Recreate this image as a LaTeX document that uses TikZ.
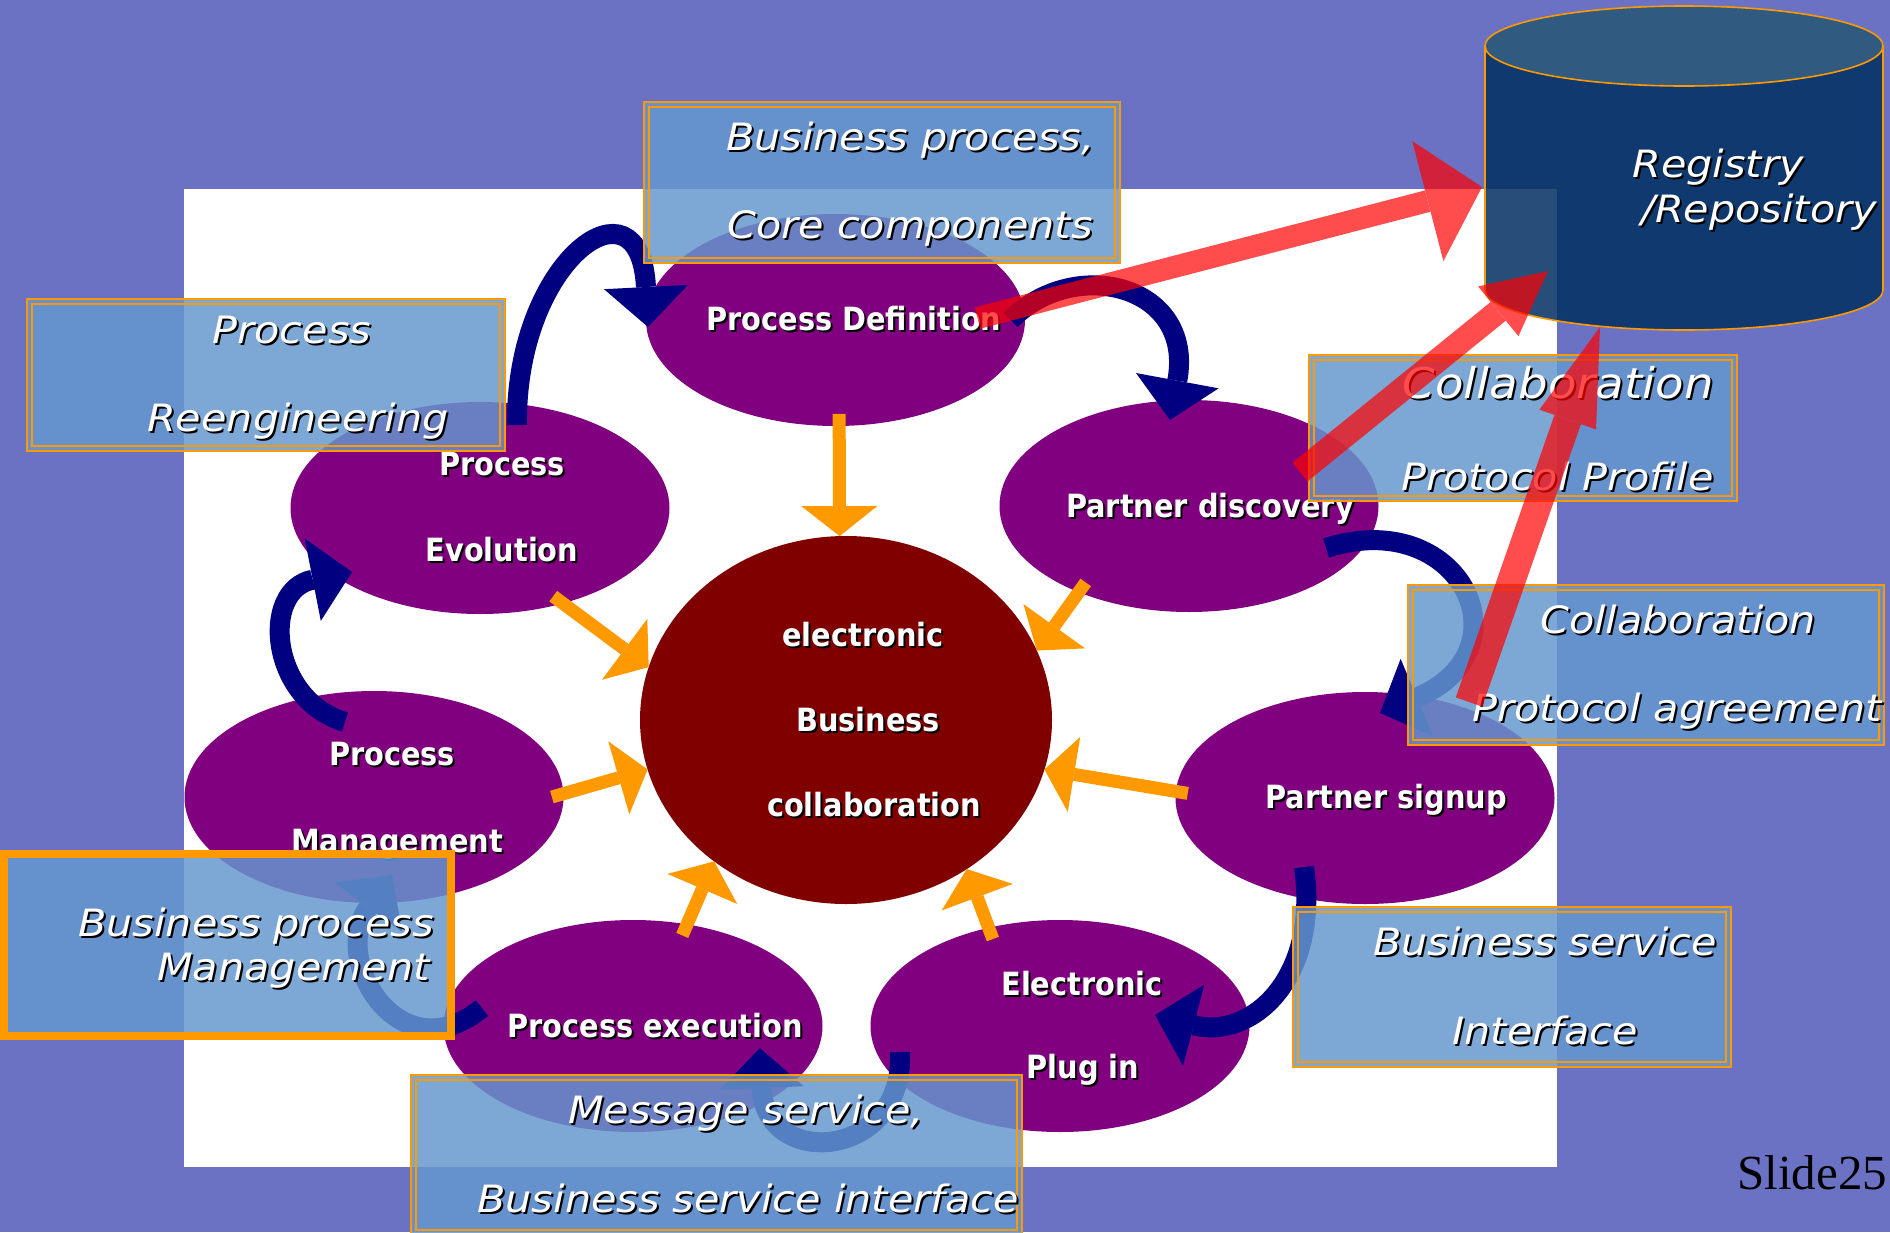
\documentclass[tikz,border=0pt]{standalone}
\usepackage{fontspec}
\usepackage{tikz}
\usetikzlibrary{shapes.geometric}
\usetikzlibrary{arrows.meta}

\newfontfamily\boxfont[FakeStretch=1.1]{DejaVu Sans Oblique}
\newfontfamily\bubblefont[FakeStretch=0.9]{DejaVu Sans Bold}
\newfontfamily\slidefont{Liberation Serif}

\definecolor{slideblue}{RGB}{107,114,196}
\definecolor{bubblepurple}{RGB}{128,0,128}
\definecolor{hubred}{RGB}{128,0,0}
\definecolor{arcnavy}{RGB}{0,0,128}
\definecolor{feedorange}{RGB}{255,153,0}
\definecolor{boxblue}{RGB}{101,152,206}
\definecolor{cylbody}{RGB}{0,48,97}
\definecolor{cyltop}{RGB}{40,86,118}

\newcommand{\withshadow}[1]{\makebox[0pt][l]{\hspace{1pt}\raisebox{-1pt}{\textcolor{black}{#1}}}#1}

\tikzset{
  bubble/.style={ellipse, fill=bubblepurple, inner sep=0pt, outer sep=0pt, minimum width=189.5pt, minimum height=106pt},
  hubdisc/.style={ellipse, fill=hubred, inner sep=0pt, outer sep=0pt, minimum width=206pt, minimum height=184pt},
  bubbletext/.style={inner sep=0pt, text=white, font=\bubblefont\fontsize{16}{19}\selectfont},
  boxtext/.style={inner sep=0pt, text=white, font=\boxfont\fontsize{18.8}{22}\selectfont},
  bigboxtext/.style={inner sep=0pt, text=white, font=\boxfont\fontsize{21.2}{25}\selectfont},
  infobox/.style={rectangle, draw=feedorange, line width=1.2pt, fill=boxblue, fill opacity=0.84, inner sep=0pt, outer sep=0pt},
  rim/.style={draw=feedorange, line width=1.2pt},
  cyclearrow/.style={draw=arcnavy, line width=10pt, -{Triangle[width=42pt, length=20pt, line width=0pt]}},
  feedarrow/.style={draw=feedorange, line width=6.5pt, shorten <=-6pt, -{Triangle[width=38pt, length=15pt, line width=0pt]}},
  registryarrow/.style={draw=red}
}

\begin{document}
\begin{tikzpicture}[x=0.5pt, y=-0.5pt]
\fill[slideblue] (0,0) rectangle (1890,1232);
\useasboundingbox (0,0) rectangle (1890,1232);
\fill[white] (184,189) rectangle (1557,1167);

\node[bubble] (def) at (835.5,320) {};
\node[bubble] (disc) at (1189,506) {};
\node[bubble] (evo) at (480,508) {};
\node[bubble] (mgmt) at (374,797) {};
\node[bubble] (sig) at (1365,798) {};
\node[bubble] (exec) at (633,1026) {};
\node[bubble] (plug) at (1060,1026) {};
\node[hubdisc] (hub) at (846,720) {};

\foreach \a/\b in {def.-88/hub.92, evo.-49/hub.165, disc.-142/hub.20, mgmt.1/hub.194,
                   sig.178/hub.-14, exec.62/hub.-133, plug.126/hub.-51}
  \draw[feedarrow] (\a) -- (\b);

\node[bubbletext, anchor=base west] (deftxt) at (706,330) {\withshadow{Process Definition}};
\node[bubbletext, anchor=base] (evotxt1) at (502,475) {\withshadow{Process}};
\node[bubbletext, anchor=base] (evotxt2) at (502,561) {\withshadow{Evolution}};
\node[bubbletext, anchor=base] (mgmttxt1) at (392,765) {\withshadow{Process}};
\node[bubbletext, anchor=base] (mgmttxt2) at (397,852) {\withshadow{Management}};
\node[bubbletext, anchor=base] (disctxt) at (1210,517) {\withshadow{Partner discovery}};
\node[bubbletext, anchor=base] (sigtxt) at (1386,808) {\withshadow{Partner signup}};
\node[bubbletext, anchor=base] (hubtxt1) at (863,646) {\withshadow{electronic}};
\node[bubbletext, anchor=base] (hubtxt2) at (868,731) {\withshadow{Business}};
\node[bubbletext, anchor=base] (hubtxt3) at (874,816) {\withshadow{collaboration}};
\node[bubbletext, anchor=base] (exectxt) at (655,1037) {\withshadow{Process execution}};
\node[bubbletext, anchor=base] (plugtxt1) at (1082,995) {\withshadow{Electronic}};
\node[bubbletext, anchor=base] (plugtxt2) at (1083,1078) {\withshadow{Plug in}};

\draw[cyclearrow] ([shift={(37,-83)}]evo.center) .. controls (515,260) and (640,170) .. ([shift={(-187.5,7)}]def.center);
\draw[cyclearrow] ([shift={(175,0)}]def.center) .. controls (1075,255) and (1195,285) .. ([shift={(-19,-86)}]disc.center);
\draw[cyclearrow] ([shift={(137,42)}]disc.center) .. controls (1460,505) and (1530,650) .. ([shift={(15,-85)}]sig.center);
\draw[cyclearrow] ([shift={(-61,69)}]sig.center) .. controls (1320,980) and (1250,1040) .. ([shift={(95,-11)}]plug.center);
\draw[cyclearrow] ([shift={(-160,26)}]plug.center) .. controls (905,1160) and (765,1170) .. ([shift={(127,22)}]exec.center);
\draw[cyclearrow] ([shift={(-151,-18)}]exec.center) .. controls (400,1075) and (330,960) .. ([shift={(18,78)}]mgmt.center);
\draw[cyclearrow] ([shift={(-29,-75)}]mgmt.center) .. controls (270,700) and (260,590) .. ([shift={(-128,64)}]evo.center);

\fill[cylbody, fill opacity=0.85] (1485,46) -- (1485,290) arc[start angle=180, end angle=360, x radius=99.5pt, y radius=20pt]
  -- (1883,46) arc[start angle=0, end angle=-180, x radius=99.5pt, y radius=20pt] -- cycle;
\fill[cyltop, fill opacity=0.85] (1684,46) ellipse [x radius=99.5pt, y radius=20pt];
\draw[feedorange, line width=0.8pt] (1485,46) -- (1485,290) arc[start angle=180, end angle=360, x radius=99.5pt, y radius=20pt] -- (1883,46);
\draw[feedorange, line width=0.8pt] (1684,46) ellipse [x radius=99.5pt, y radius=20pt];
\node[boxtext, anchor=base] (reg1) at (1718,177) {\withshadow{Registry}};
\node[boxtext, anchor=base] (reg2) at (1759,222) {\withshadow{/Repository}};

\node[infobox, minimum width=238pt, minimum height=80.5pt] (boxcore) at (882,182.5) {};
\node[infobox, minimum width=239pt, minimum height=76pt] (boxreeng) at (266,375) {};
\node[infobox, minimum width=214pt, minimum height=73pt] (boxprofile) at (1523,428) {};
\node[infobox, minimum width=238pt, minimum height=80pt] (boxagree) at (1646,665) {};
\node[infobox, minimum width=219pt, minimum height=80pt] (boxiface) at (1512,987) {};
\node[infobox, minimum width=305.5pt, minimum height=80pt] (boxmsg) at (716.5,1155) {};
\node[infobox, line width=4pt, minimum width=223.5pt, minimum height=91pt] (boxbpm) at (227.5,945) {};
\foreach \b in {boxcore, boxreeng, boxprofile, boxagree, boxiface, boxmsg}
  \draw[rim] ([shift={(5,5)}]\b.north west) rectangle ([shift={(-5,-5)}]\b.south east);

\node[boxtext, anchor=base east] (core1) at (1095,150) {\withshadow{Business process,}};
\node[boxtext, anchor=base east] (core2) at (1093,238) {\withshadow{Core components}};
\node[boxtext, anchor=base] (reeng1) at (292,343) {\withshadow{Process}};
\node[boxtext, anchor=base] (reeng2) at (298,431) {\withshadow{Reengineering}};
\node[bigboxtext, anchor=base east] (profile1) at (1714,398) {\withshadow{Collaboration}};
\node[boxtext, anchor=base east] (profile2) at (1714,490) {\withshadow{Protocol Profile}};
\node[boxtext, anchor=base] (agree1) at (1678,633) {\withshadow{Collaboration}};
\node[boxtext, anchor=base] (agree2) at (1677,721) {\withshadow{Protocol agreement}};
\node[boxtext, anchor=base east] (bpm1) at (434,936) {\withshadow{Business process}};
\node[boxtext, anchor=base east] (bpm2) at (430,980) {\withshadow{Management}};
\node[boxtext, anchor=base] (iface1) at (1545,955) {\withshadow{Business service}};
\node[boxtext, anchor=base] (iface2) at (1545,1044) {\withshadow{Interface}};
\node[boxtext, anchor=base] (msg1) at (746,1123) {\withshadow{Message service,}};
\node[boxtext, anchor=base] (msg2) at (748,1212) {\withshadow{Business service interface}};

\coordinate (regA) at (1482,187);
\coordinate (regB) at (1548,271);
\coordinate (regC) at (1600,327);
\begin{scope}[transparency group, opacity=0.7]
\draw[registryarrow, line width=11pt, -{Triangle[width=62pt, length=28pt, line width=0pt]}] ([shift={(142,-2)}]def.center) -- (regA);
\end{scope}
\begin{scope}[transparency group, opacity=0.7]
\draw[registryarrow, line width=12pt, -{Triangle[width=32pt, length=32pt, line width=0pt]}] ([shift={(111,-34)}]disc.center) -- (regB);
\end{scope}
\begin{scope}[transparency group, opacity=0.7]
\draw[registryarrow, line width=14pt, -{Triangle[width=30pt, length=49pt, line width=0pt]}] ([shift={(104,-96)}]sig.center) -- (regC);
\end{scope}

\node[anchor=base west, inner sep=0pt, font=\slidefont\fontsize{24.5}{29}\selectfont] (slidenum) at (1737,1189) {Slide25};
\end{tikzpicture}
\end{document}
